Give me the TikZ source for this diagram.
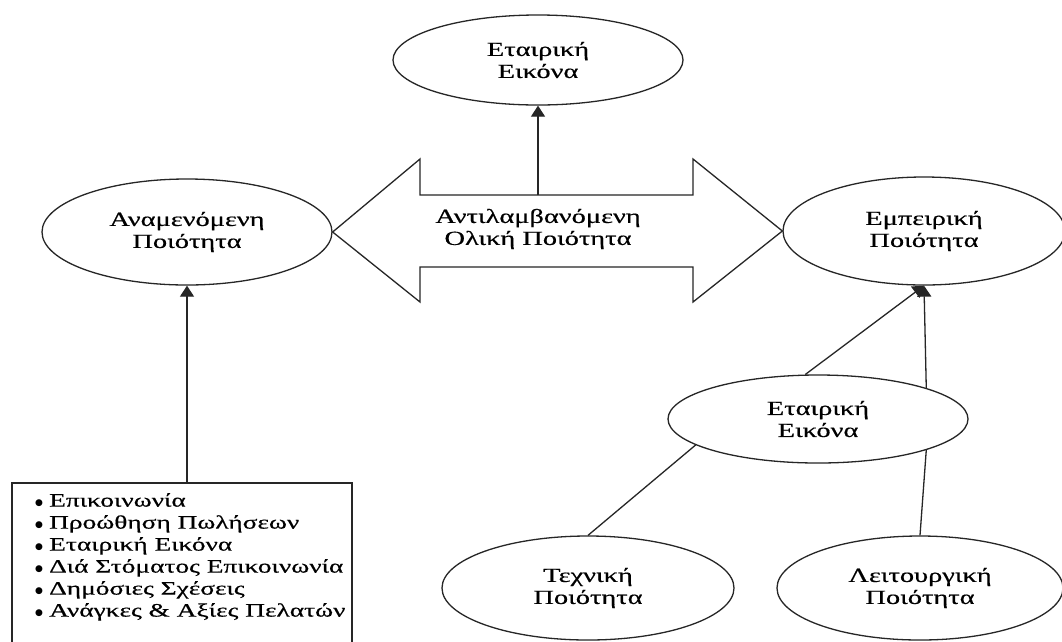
\documentclass[tikz,border=0pt]{standalone}
\usepackage{fontspec}
\setmainfont[FakeBold=0.4]{Liberation Serif}
\newfontfamily\dvfont{DejaVu Sans}
\usetikzlibrary{shapes.geometric,arrows.meta}
\newcommand\sx[1]{\scalebox{1.42}[1]{#1}}
\newcommand\sxl[1]{\scalebox{1.44}[1]{#1}}
\newcommand\itm[1]{\makebox[14pt][l]{\raisebox{1.5pt}{\dvfont\fontsize{9}{9}\selectfont ●}}\sxl{#1}}
\begin{document}
\begin{tikzpicture}[x=1pt,y=-1pt,
  every node/.style={font=\fontsize{20}{22}\selectfont, text=black},
  ell/.style={ellipse,draw=black!85,line width=1.3pt,inner sep=0pt,align=center,fill=white},
  con/.style={draw=black!85,line width=1.3pt},
  arr/.style={con,-{Triangle[width=14pt,length=11pt]}}]
\useasboundingbox[fill=white] (0,0) rectangle (1062,641);

% ellipses
\node[ell,minimum width=290pt,minimum height=90pt]  (te) at (538,60)  {\sx{Εταιρική}\\\sx{Εικόνα}};
\node[ell,minimum width=290pt,minimum height=106pt] (an) at (187,232) {\sx{Αναμενόμενη}\\\sx{Ποιότητα}};
\node[ell,minimum width=282pt,minimum height=108pt] (em) at (924,231) {\sx{Εμπειρική}\\\sx{Ποιότητα}};
\node[ell,minimum width=300pt,minimum height=88pt]  (me) at (818,419) {\sx{Εταιρική}\\\sx{Εικόνα}};
\node[ell,minimum width=292pt,minimum height=104pt] (tx) at (588,588) {\sx{Τεχνική}\\\sx{Ποιότητα}};
\node[ell,minimum width=286pt,minimum height=104pt] (lt) at (920,588) {\sx{Λειτουργική}\\\sx{Ποιότητα}};

% double arrow
\draw[con,line join=miter] (an.east) -- (420,159) -- (420,195) -- (693,195) -- (693,159)
  -- (em.west) -- (693,302) -- (693,267) -- (420,267) -- (420,302) -- cycle;
\coordinate (shafttop) at (538,195);
\node[align=center] (olp) at (538,229) {\sx{Αντιλαμβανόμενη}\\\sx{Ολική Ποιότητα}};

% box
\node[draw=black!85,line width=1.3pt,minimum width=340pt,minimum height=170pt,inner sep=0pt] (box) at (182,568) {};
\node[anchor=north west,align=left,inner sep=0pt,font=\fontsize{19}{22}\selectfont] (list) at (35,493)
  {\itm{Επικοινωνία}\\ \itm{Προώθηση Πωλήσεων}\\ \itm{Εταιρική Εικόνα}\\ \itm{Διά Στόματος Επικοινωνία}\\ \itm{Δημόσιες Σχέσεις}\\ \itm{Ανάγκες \& Αξίες Πελατών}};

% connectors
\draw[arr] (shafttop) -- (te.south);
\draw[arr] (an.south |- box.north) -- (an.south);
\draw[arr] (me.106) -- (em.south);
\draw[arr] (me.16) -- (em.south);
\draw[con] (tx.north) -- (me.192);
\draw[con] (lt.north) -- (me.-16);
\end{tikzpicture}
\end{document}
